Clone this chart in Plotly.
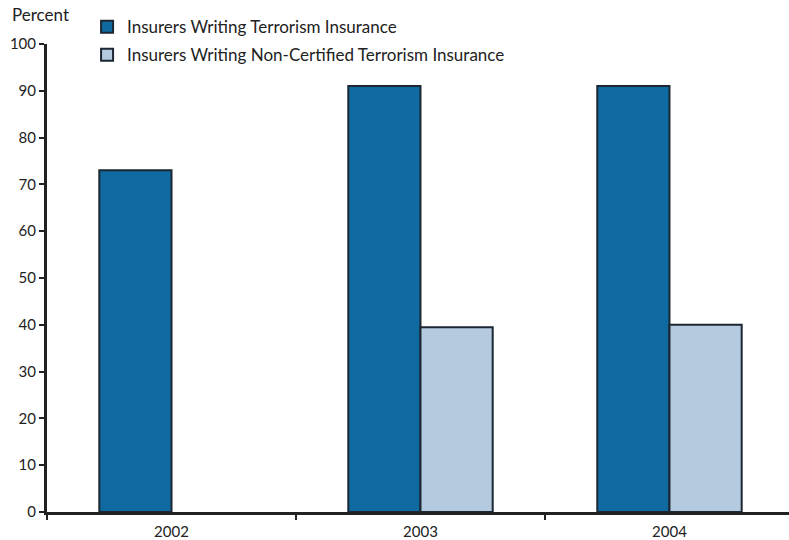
import plotly.graph_objects as go

categories = ["2002", "2003", "2004"]
terrorism = [73, 91, 91]
non_certified = [None, 39.5, 40]
series_names = ["Insurers Writing Terrorism Insurance",
                "Insurers Writing Non-Certified Terrorism Insurance"]
y_ticks = [0, 10, 20, 30, 40, 50, 60, 70, 80, 90, 100]

DARK = "#0e6aa0"
LIGHT = "#b3cadf"
EDGE = "#1c2733"
FONT = "Lato, 'Open Sans', sans-serif"
TICKFONT = "'Liberation Sans Narrow', " + FONT

fig = go.Figure()
fig.add_trace(go.Bar(x=categories, y=terrorism, name=series_names[0],
                     marker=dict(color=DARK, line=dict(color=EDGE, width=2)),
                     legend="legend"))
fig.add_trace(go.Bar(x=categories, y=non_certified, name=series_names[1],
                     marker=dict(color=LIGHT, line=dict(color=EDGE, width=2)),
                     legend="legend2"))

legend_common = dict(bgcolor="rgba(0,0,0,0)", borderwidth=0,
                     font=dict(family=FONT, size=17, color="#222"),
                     itemwidth=30, xanchor="left", yanchor="middle",
                     itemclick=False, itemdoubleclick=False)

fig.update_layout(
    width=789, height=540,
    margin=dict(l=47, r=0, t=44, b=28),
    paper_bgcolor="white", plot_bgcolor="white",
    barmode="group", bargap=0.42, bargroupgap=0,
    showlegend=True,
    legend=dict(x=0.054, y=1.036, **legend_common),
    legend2=dict(x=0.054, y=0.976, **legend_common),
    xaxis=dict(type="category", range=[-0.5, 2.48],
               showline=True, linecolor="#222", linewidth=3,
               ticks="outside", tickson="boundaries", ticklen=5,
               tickwidth=2, tickcolor="#222", ticklabelstandoff=4,
               tickfont=dict(family=TICKFONT, size=15, color="#222"),
               showgrid=False, zeroline=False),
    yaxis=dict(range=[0, 100], tickvals=y_ticks,
               showline=True, linecolor="#222", linewidth=3,
               ticks="outside", ticklen=5, tickwidth=2, tickcolor="#222",
               tickfont=dict(family=TICKFONT, size=15, color="#222"),
               showgrid=False, zeroline=False),
    annotations=[dict(text="Percent", xref="paper", yref="paper",
                      x=-0.05, y=1.062, xanchor="left", yanchor="middle",
                      showarrow=False,
                      font=dict(family=FONT, size=17, color="#222"))],
)

fig.write_html("out.html")
